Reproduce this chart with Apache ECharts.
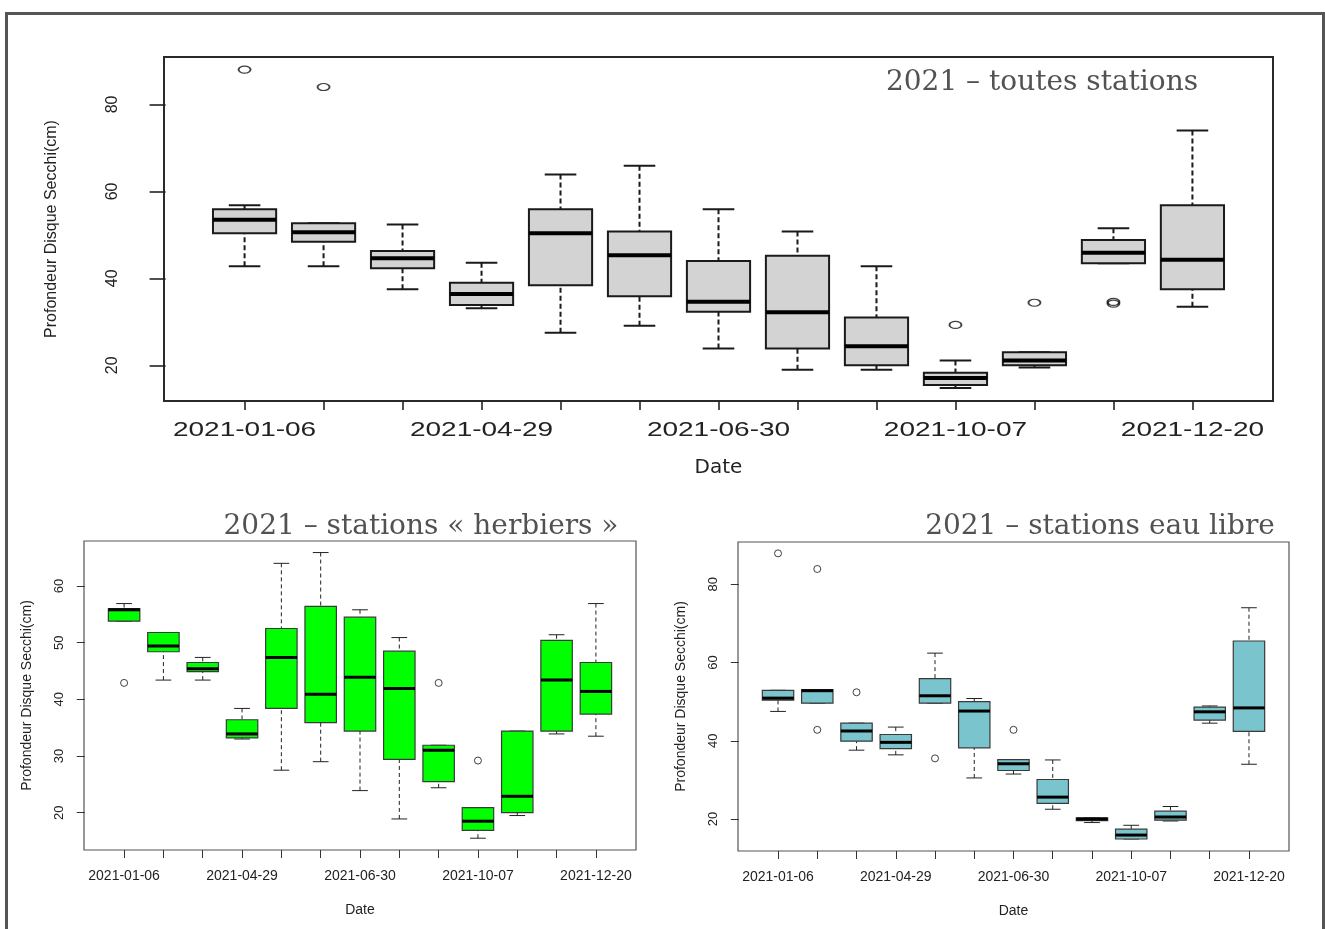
<!DOCTYPE html>
<html lang="fr">
<head>
<meta charset="utf-8">
<title>Profondeur Disque Secchi 2021</title>
<script src="https://cdn.jsdelivr.net/npm/echarts@6/dist/echarts.min.js"></script>
<style>
  html, body { margin: 0; padding: 0; background: #ffffff; }
  #page { position: relative; width: 1325px; height: 929px; overflow: hidden; }
  #frame { position: absolute; left: 5px; top: 12px; width: 1320px; height: 940px;
           border: 3px solid #555555; border-bottom: none; box-sizing: border-box; }
  #chart { position: absolute; left: 0; top: 0; width: 1325px; height: 929px; }
</style>
</head>
<body>
<div id="page">
  <div id="frame"></div>
  <div id="chart"></div>
</div>
<script>
// Sampling campaigns (box positions) and the dates printed under the axis
const campaigns = [1, 2, 3, 4, 5, 6, 7, 8, 9, 10, 11, 12, 13];
const labelPositions = [1, 4, 7, 10, 13];
const labelDates = ['2021-01-06', '2021-04-29', '2021-06-30', '2021-10-07', '2021-12-20'];

// 2021 – toutes stations : lower whisker, Q1, median, Q3, upper whisker (cm)
const allLow  = [42.8, 42.8, 37.5, 33.1, 27.5, 29.1, 23.9, 19.0, 19.0, 14.8, 19.5, 43.5, 33.5];
const allQ1   = [50.4, 48.4, 42.3, 33.9, 38.4, 35.9, 32.3, 23.9, 20.0, 15.5, 20.0, 43.5, 37.5];
const allMed  = [53.5, 50.6, 44.6, 36.4, 50.4, 45.3, 34.6, 32.2, 24.4, 17.1, 21.1, 45.9, 44.3];
const allQ3   = [55.9, 52.7, 46.3, 39.0, 55.9, 50.8, 44.0, 45.2, 31.0, 18.3, 23.0, 48.8, 56.8];
const allHigh = [56.8, 52.7, 52.4, 43.6, 63.9, 65.9, 55.9, 50.8, 42.8, 21.1, 23.0, 51.5, 74.0];
const allOut  = [[1, 88.0], [2, 84.0], [10, 29.3], [11, 34.4], [12, 34.2], [12, 34.6]];

// 2021 – stations « herbiers »
const herbLow  = [53.8, 43.4, 43.4, 33.0, 27.5, 29.0, 23.9, 18.9, 24.4, 15.5, 19.5, 33.9, 33.5];
const herbQ1   = [53.8, 48.4, 44.9, 33.2, 38.4, 35.9, 34.4, 29.4, 25.5, 16.9, 20.0, 34.4, 37.4];
const herbMed  = [55.8, 49.4, 45.4, 33.9, 47.4, 40.9, 43.9, 41.9, 31.0, 18.5, 22.9, 43.4, 41.4];
const herbQ3   = [56.0, 51.8, 46.5, 36.4, 52.5, 56.4, 54.5, 48.5, 31.9, 20.9, 34.4, 50.4, 46.5];
const herbHigh = [56.9, 51.8, 47.4, 38.4, 64.0, 65.9, 55.8, 50.9, 31.9, 20.9, 34.4, 51.4, 56.9];
const herbOut  = [[1, 42.9], [9, 42.9], [10, 29.2]];

// 2021 – stations eau libre
const libreLow  = [47.5, 49.6, 37.6, 36.4, 49.6, 30.5, 31.5, 22.5, 19.1, 14.9, 19.5, 44.5, 34.0];
const libreQ1   = [50.4, 49.6, 39.9, 38.0, 49.6, 38.2, 32.4, 24.0, 19.6, 14.9, 19.7, 45.3, 42.4];
const libreMed  = [50.9, 52.8, 42.5, 39.6, 51.5, 47.6, 34.1, 25.6, 20.0, 15.9, 20.5, 47.4, 48.4];
const libreQ3   = [52.9, 53.1, 44.5, 41.6, 55.9, 50.0, 35.2, 30.1, 20.3, 17.4, 22.0, 48.6, 65.5];
const libreHigh = [52.9, 53.1, 44.5, 43.5, 62.4, 50.8, 35.2, 35.1, 20.3, 18.4, 23.2, 48.9, 74.0];
const libreOut  = [[1, 87.9], [2, 83.9], [2, 42.8], [3, 52.4], [5, 35.5], [7, 42.8]];

// y ranges (R style: data range widened by 4 %) and tick values
const allRange = [11.8, 90.9], allTicks = [20, 40, 60, 80];
const herbRange = [13.42, 67.94], herbTicks = [20, 30, 40, 50, 60];
const libreRange = [11.83, 90.8], libreTicks = [20, 40, 60, 80];
const xRange = [-0.02, 14.02];

const yTitle = 'Profondeur Disque Secchi(cm)';

function boxRows(low, q1, med, q3, high) {
  return campaigns.map((c, i) => [c, low[i], q1[i], med[i], q3[i], high[i]]);
}

// Tukey-style box: dashed whiskers, solid staples, filled box, bold median
function boxRenderer(st) {
  return function (params, api) {
    const x = api.value(0);
    const pLo = api.coord([x, api.value(1)]);
    const pQ1 = api.coord([x, api.value(2)]);
    const pMd = api.coord([x, api.value(3)]);
    const pQ3 = api.coord([x, api.value(4)]);
    const pHi = api.coord([x, api.value(5)]);
    const bw = api.size([0.8, 0])[0];
    const h = bw / 2, cap = bw / 4, cx = pMd[0];
    const wStyle = { stroke: st.line, lineWidth: st.wWidth, lineDash: st.dash };
    const sStyle = { stroke: st.line, lineWidth: st.wWidth };
    return {
      type: 'group',
      children: [
        { type: 'line', shape: { x1: cx, y1: pHi[1], x2: cx, y2: pQ3[1] }, style: wStyle },
        { type: 'line', shape: { x1: cx, y1: pLo[1], x2: cx, y2: pQ1[1] }, style: wStyle },
        { type: 'line', shape: { x1: cx - cap, y1: pHi[1], x2: cx + cap, y2: pHi[1] }, style: sStyle },
        { type: 'line', shape: { x1: cx - cap, y1: pLo[1], x2: cx + cap, y2: pLo[1] }, style: sStyle },
        { type: 'rect', shape: { x: cx - h, y: pQ3[1], width: bw, height: pQ1[1] - pQ3[1] },
          style: { fill: st.fill, stroke: st.border, lineWidth: st.bWidth } },
        { type: 'line', shape: { x1: cx - h, y1: pMd[1], x2: cx + h, y2: pMd[1] },
          style: { stroke: '#000000', lineWidth: st.mWidth } }
      ]
    };
  };
}

function boxSeries(idx, rows, st) {
  return {
    type: 'custom', xAxisIndex: idx, yAxisIndex: idx, renderItem: boxRenderer(st),
    data: rows, silent: true, clip: false, z: 2
  };
}

function outlierSeries(idx, pts, size, width) {
  return {
    type: 'scatter', xAxisIndex: idx, yAxisIndex: idx, data: pts, symbol: 'circle',
    symbolSize: size, silent: true, z: 3,
    itemStyle: { color: 'rgba(0,0,0,0)', borderColor: '#111111', borderWidth: width }
  };
}

const sans = 'Liberation Sans, Arial, sans-serif';
const serif = 'DejaVu Serif, serif';
const titleStyle = { fontFamily: serif, fontSize: 28, fontWeight: 'normal', color: '#525252' };

function xAxisFor(idx, opts) {
  return Object.assign({
    gridIndex: idx, type: 'value', min: xRange[0], max: xRange[1],
    axisLine: { show: false }, splitLine: { show: false },
    axisTick: { show: true, length: 8, customValues: campaigns, lineStyle: { color: '#333333', width: 1 } },
    axisLabel: {
      show: true, customValues: labelPositions, margin: 19,
      formatter: v => labelDates[labelPositions.indexOf(v)] || '',
      fontFamily: sans, fontSize: 14, color: '#222222'
    },
    name: 'Date', nameLocation: 'middle', nameGap: 53,
    nameTextStyle: { fontFamily: sans, fontSize: 14, color: '#222222' }
  }, opts || {});
}

function yAxisFor(idx, range, ticks, opts) {
  return Object.assign({
    gridIndex: idx, type: 'value', min: range[0], max: range[1],
    axisLine: { show: false }, splitLine: { show: false },
    axisTick: { show: true, length: 8, customValues: ticks, lineStyle: { color: '#333333', width: 1 } },
    axisLabel: { customValues: ticks, rotate: 90, margin: 18, fontFamily: sans, fontSize: 13, color: '#222222' },
    name: yTitle, nameLocation: 'middle', nameRotate: 90, nameGap: 50,
    nameTextStyle: { fontFamily: sans, fontSize: 14, color: '#222222' }
  }, opts || {});
}

const chart = echarts.init(document.getElementById('chart'), null, { renderer: 'canvas' });

const option = {
  animation: false,
  backgroundColor: 'rgba(0,0,0,0)',
  title: [
    { text: '2021 – toutes stations', left: 1037, top: 64, textAlign: 'center', textStyle: titleStyle },
    { text: '2021 – stations « herbiers »', left: 416, top: 508, textAlign: 'center', textStyle: titleStyle },
    { text: '2021 – stations eau libre', left: 1095, top: 508, textAlign: 'center', textStyle: titleStyle }
  ],
  grid: [
    { left: 164, top: 57, width: 1109, height: 344, show: true, borderColor: '#2a2a2a', borderWidth: 2, backgroundColor: 'rgba(0,0,0,0)' },
    { left: 84, top: 541, width: 552, height: 309, show: true, borderColor: '#555555', borderWidth: 1.2, backgroundColor: 'rgba(0,0,0,0)' },
    { left: 738, top: 542, width: 551, height: 309, show: true, borderColor: '#555555', borderWidth: 1.2, backgroundColor: 'rgba(0,0,0,0)' }
  ],
  xAxis: [
    xAxisFor(0, {
      axisTick: { show: true, length: 9, customValues: campaigns, lineStyle: { color: '#222222', width: 1.6 } },
      axisLabel: { show: false },
      nameGap: 57,
      nameTextStyle: { fontFamily: 'DejaVu Sans, sans-serif', fontSize: 20, color: '#222222' }
    }),
    xAxisFor(1),
    xAxisFor(2)
  ],
  yAxis: [
    yAxisFor(0, allRange, allTicks, {
      axisTick: { show: true, length: 16, customValues: allTicks, lineStyle: { color: '#222222', width: 1.6 } },
      axisLabel: { customValues: allTicks, rotate: 90, margin: 43, fontFamily: sans, fontSize: 16, color: '#222222' },
      nameGap: 104,
      nameTextStyle: { fontFamily: sans, fontSize: 16, color: '#222222' }
    }),
    yAxisFor(1, herbRange, herbTicks),
    yAxisFor(2, libreRange, libreTicks)
  ],
  series: [
    boxSeries(0, boxRows(allLow, allQ1, allMed, allQ3, allHigh),
      { fill: '#d3d3d3', line: '#1a1a1a', border: '#1a1a1a', wWidth: 2, bWidth: 2, mWidth: 4, dash: [5, 3] }),
    outlierSeries(0, allOut, [12, 7], 1.5),
    // date labels of the upper panel, drawn wide like the rest of that panel
    {
      type: 'custom', xAxisIndex: 0, yAxisIndex: 0, silent: true, clip: false,
      data: labelPositions.map(p => [p, allRange[0]]),
      renderItem: function (params, api) {
        const p = api.coord([api.value(0), api.value(1)]);
        return {
          type: 'text', x: p[0], y: p[1] + 29, scaleX: 1.4,
          style: { text: labelDates[params.dataIndex], fontFamily: sans, fontSize: 20,
                   fill: '#222222', align: 'center', verticalAlign: 'middle' }
        };
      }
    },
    boxSeries(1, boxRows(herbLow, herbQ1, herbMed, herbQ3, herbHigh),
      { fill: '#00ff00', line: '#222222', border: '#3a3a3a', wWidth: 1, bWidth: 1.2, mWidth: 3, dash: [4, 3] }),
    outlierSeries(1, herbOut, 7, 1),
    boxSeries(2, boxRows(libreLow, libreQ1, libreMed, libreQ3, libreHigh),
      { fill: '#7ac5cd', line: '#222222', border: '#3a3a3a', wWidth: 1, bWidth: 1.2, mWidth: 3, dash: [4, 3] }),
    outlierSeries(2, libreOut, 7, 1)
  ]
};

chart.setOption(option);
</script>
</body>
</html>
